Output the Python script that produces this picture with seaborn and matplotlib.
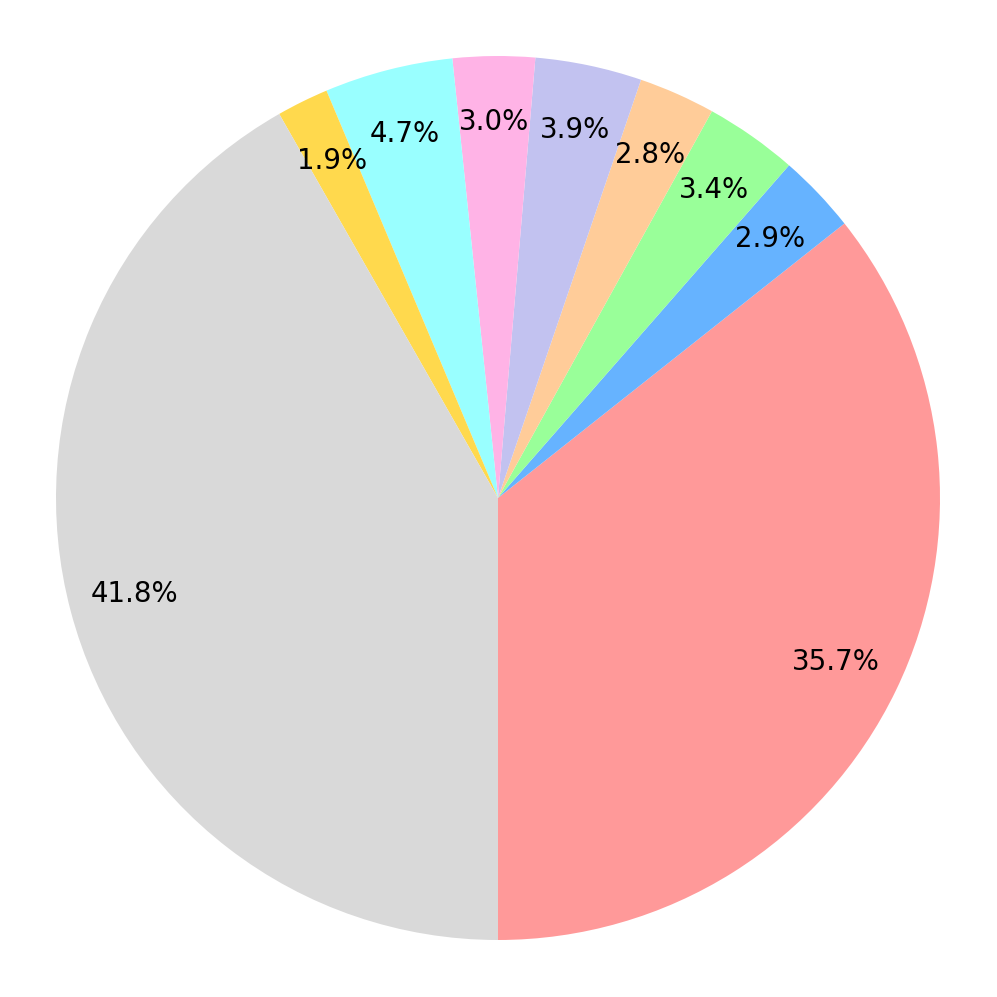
import matplotlib
matplotlib.use('Agg')
import matplotlib.pyplot as plt
import seaborn as sns

sns.set_theme(style="white")
plt.rcParams['font.family'] = ['DejaVu Sans']

# slice shares (percent), counterclockwise from the bottom
shares = [35.7, 2.9, 3.4, 2.8, 3.9, 3.0, 4.7, 1.9, 41.8]
colors = ['#ff9999', '#66b3ff', '#99ff99', '#ffcc99', '#c2c2f0',
          '#ffb3e6', '#99ffff', '#ffd94d', '#d9d9d9']

fig = plt.figure(figsize=(10, 10), dpi=99.7)
ax = fig.add_axes([56 / 997, 57 / 997, 884 / 997, 884 / 997])

ax.pie(shares, colors=colors, startangle=-90, counterclock=True,
       autopct='%1.1f%%', pctdistance=0.85,
       wedgeprops={'linewidth': 0, 'edgecolor': 'none'},
       textprops={'fontsize': 20, 'color': 'black'})
ax.set_xlim(-1, 1)
ax.set_ylim(-1, 1)
ax.set_aspect('equal')
ax.axis('off')

fig.savefig('out.png', dpi=99.7)
